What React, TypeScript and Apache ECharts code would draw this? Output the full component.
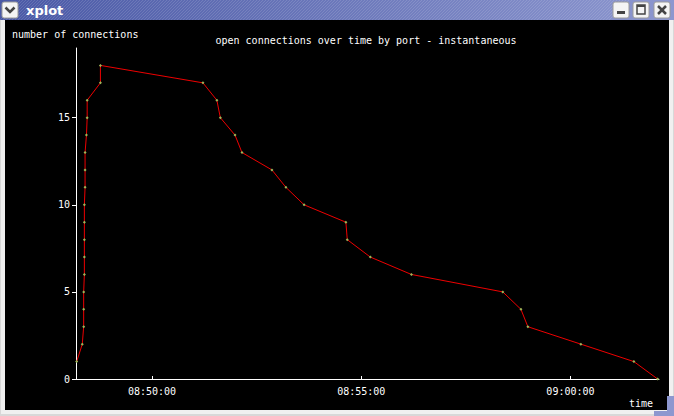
import React, { useEffect, useRef } from "react";
import * as echarts from "echarts";

// ---- data ----
const times = [
  "08:48:12", "08:48:20", "08:48:22", "08:48:22", "08:48:22", "08:48:23", "08:48:23", "08:48:23", "08:48:23",
  "08:48:23", "08:48:24", "08:48:24", "08:48:24", "08:48:26", "08:48:27", "08:48:27", "08:48:46", "08:48:46",
  "08:51:13", "08:51:33", "08:51:38", "08:51:59", "08:52:09", "08:52:52", "08:53:12", "08:53:38", "08:54:38",
  "08:54:40", "08:55:13", "08:56:12", "08:58:23", "08:58:49", "08:58:59", "09:00:15", "09:01:31", "09:02:05",
];
const connections = [
  1, 2, 3, 4, 5, 6, 7, 8, 9, 10, 11, 12, 13, 14, 15, 16, 17, 18,
  17, 16, 15, 14, 13, 12, 11, 10, 9, 8, 7, 6, 5, 4, 3, 2, 1, 0,
];
const xTickLabels = ["08:50:00", "08:55:00", "09:00:00"];
const yTickValues = [0, 5, 10, 15];
const xRange = ["08:48:11", "09:02:07"];
const yMax = 19;
const chartTitle = "open connections over time by port - instantaneous";
const yAxisName = "number of connections";
const xAxisName = "time";
const windowTitle = "xplot";

const toSec = (s: string) => {
  const [h, m, sec] = s.split(":").map(Number);
  return h * 3600 + m * 60 + sec;
};
const pad = (n: number) => (n < 10 ? "0" + n : "" + n);
const fmt = (v: number) => {
  const h = Math.floor(v / 3600);
  const m = Math.floor((v % 3600) / 60);
  const s = Math.round(v % 60);
  return `${pad(h)}:${pad(m)}:${pad(s)}`;
};

const FONT = "DejaVu Sans Mono";

export default function App() {
  const ref = useRef<HTMLDivElement>(null);
  useEffect(() => {
    document.body.style.margin = "0";
    const chart = echarts.init(ref.current!, null, { renderer: "svg" });

    const W = 674;
    const H = 416;
    const stripes: any[] = [];
    for (let x = 0; x < 612; x += 3) {
      stripes.push({
        type: "line",
        z: -5,
        silent: true,
        shape: { x1: x, y1: 20, x2: x + 20, y2: 0 },
        style: { stroke: "rgba(255,255,255,0.13)", lineWidth: 1 },
      });
    }
    const btn = (x: number) => ({
      type: "rect",
      z: -4,
      shape: { x, y: 2, width: 16, height: 16, r: 2 },
      style: { fill: "#f4f4f4", stroke: "#9a9a9a", lineWidth: 1 },
    });

    const graphic: any[] = [
      { type: "rect", z: -10, shape: { x: 0, y: 0, width: W, height: H }, style: { fill: "#d8d8d8" } },
      { type: "rect", z: -9, shape: { x: 1, y: 0, width: W - 2, height: H - 2 }, style: { fill: "#f0f0f0" } },
      { type: "rect", z: -8, shape: { x: 5, y: 20, width: W - 10, height: 390 }, style: { fill: "#000000" } },
      {
        type: "rect",
        z: -6,
        shape: { x: 0, y: 0, width: W, height: 20 },
        style: {
          fill: new echarts.graphic.LinearGradient(0, 0, 1, 0, [
            { offset: 0, color: "#4a59a6" },
            { offset: 1, color: "#8d97cf" },
          ]),
        },
      },
      ...stripes,
      { type: "rect", z: -7, shape: { x: 667, y: 396, width: 7, height: 20 }, style: { fill: "#8d97cf" } },
      { type: "rect", z: -7, shape: { x: 654, y: 411, width: 20, height: 5 }, style: { fill: "#8d97cf" } },
      // left chevron button
      btn(2),
      {
        type: "polyline",
        z: -3,
        shape: { points: [[5.5, 7.5], [10, 12], [14.5, 7.5]] },
        style: { stroke: "#444", lineWidth: 2.5, fill: null },
      },
      // right buttons
      btn(613),
      btn(633),
      btn(654),
      { type: "rect", z: -3, shape: { x: 617, y: 11, width: 8, height: 3 }, style: { fill: "#444" } },
      { type: "rect", z: -3, shape: { x: 637, y: 5, width: 8, height: 9 }, style: { fill: "none", stroke: "#444", lineWidth: 1.5 } },
      { type: "rect", z: -3, shape: { x: 637, y: 5, width: 8, height: 2 }, style: { fill: "#444" } },
      { type: "line", z: -3, shape: { x1: 658, y1: 6, x2: 666, y2: 14 }, style: { stroke: "#444", lineWidth: 2.5 } },
      { type: "line", z: -3, shape: { x1: 666, y1: 6, x2: 658, y2: 14 }, style: { stroke: "#444", lineWidth: 2.5 } },
      {
        type: "text",
        z: 10,
        x: 26,
        y: 10,
        style: {
          text: windowTitle,
          fill: "#ffffff",
          font: "bold 13px 'DejaVu Sans'",
          verticalAlign: "middle",
        },
      },
      {
        type: "text",
        z: 10,
        x: 12,
        y: 34,
        style: { text: yAxisName, fill: "#ffffff", font: `10px '${FONT}'`, verticalAlign: "middle" },
      },
      {
        type: "text",
        z: 10,
        x: 366,
        y: 40,
        style: { text: chartTitle, fill: "#ffffff", font: `10px '${FONT}'`, align: "center", verticalAlign: "middle" },
      },
      {
        type: "text",
        z: 10,
        x: 629,
        y: 403,
        style: { text: xAxisName, fill: "#ffffff", font: `10px '${FONT}'`, verticalAlign: "middle" },
      },
    ];

    const data = times.map((t, i) => [toSec(t), connections[i]]);
    const xTicks = xTickLabels.map(toSec);

    chart.setOption({
      animation: false,
      backgroundColor: "transparent",
      graphic,
      grid: { left: 76, top: 48, right: 15, bottom: 37 },
      xAxis: {
        type: "value",
        min: toSec(xRange[0]),
        max: toSec(xRange[1]),
        splitLine: { show: false },
        axisLine: { show: true, lineStyle: { color: "#ffffff", width: 1 } },
        axisTick: { show: true, inside: true, length: 3, customValues: xTicks, lineStyle: { color: "#ffffff" } },
        axisLabel: {
          customValues: xTicks,
          formatter: (v: number) => fmt(v),
          color: "#ffffff",
          fontFamily: FONT,
          fontSize: 10,
          margin: 7,
        },
      },
      yAxis: {
        type: "value",
        min: 0,
        max: yMax,
        splitLine: { show: false },
        axisLine: { show: true, lineStyle: { color: "#ffffff", width: 1 } },
        axisTick: { show: true, length: 4, customValues: yTickValues, lineStyle: { color: "#ffffff" } },
        axisLabel: {
          customValues: yTickValues,
          color: "#ffffff",
          fontFamily: FONT,
          fontSize: 10,
          margin: 6,
        },
      },
      series: [
        {
          type: "line",
          data,
          lineStyle: { color: "#ee0000", width: 1 },
          itemStyle: { color: "#9cb85a" },
          symbol: "diamond",
          symbolSize: 3,
          showSymbol: true,
          showAllSymbol: true,
          z: 5,
        },
      ],
    });
    return () => chart.dispose();
  }, []);
  return <div ref={ref} style={{ position: "absolute", left: 0, top: 0, width: 674, height: 416 }} />;
}
